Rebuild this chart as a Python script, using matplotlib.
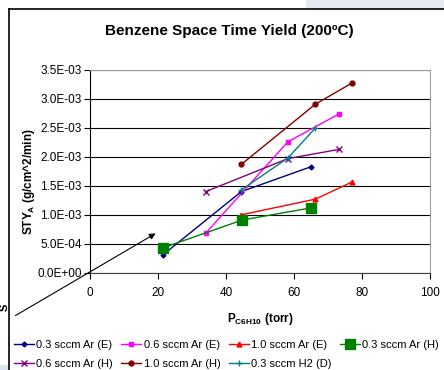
import numpy as np
import matplotlib
matplotlib.use("Agg")
import matplotlib.pyplot as plt
from matplotlib.ticker import FuncFormatter
from matplotlib.patches import Rectangle

plt.rcParams['font.family'] = ['Liberation Sans', 'DejaVu Sans']

# data (x: torr, y: g/cm^2/min)
labels = ["0.3 sccm Ar (E)", "0.6 sccm Ar (E)", "1.0 sccm Ar (E)", "0.3 sccm Ar (H)",
          "0.6 sccm Ar (H)", "1.0 sccm Ar (H)", "0.3 sccm H2 (D)"]
x_ar03_e = [21.5, 44.5, 65.0]
y_ar03_e = [3.1e-4, 1.40e-3, 1.83e-3]
x_ar06_e = [34.0, 58.2, 73.2]
y_ar06_e = [6.8e-4, 2.26e-3, 2.74e-3]
x_ar10_e = [44.5, 66.3, 77.2]
y_ar10_e = [1.0e-3, 1.27e-3, 1.57e-3]
x_ar03_h = [21.5, 44.8, 65.1]
y_ar03_h = [4.3e-4, 9.1e-4, 1.12e-3]
x_ar06_h = [34.0, 58.2, 73.3]
y_ar06_h = [1.40e-3, 1.97e-3, 2.13e-3]
x_ar10_h = [44.5, 66.3, 77.2]
y_ar10_h = [1.87e-3, 2.91e-3, 3.28e-3]
x_h203_d = [44.5, 58.2, 66.3]
y_h203_d = [1.43e-3, 1.98e-3, 2.50e-3]

xs = [x_ar03_e, x_ar06_e, x_ar10_e, x_ar03_h, x_ar06_h, x_ar10_h, x_h203_d]
ys = [y_ar03_e, y_ar06_e, y_ar10_e, y_ar03_h, y_ar06_h, y_ar10_h, y_h203_d]
colors = ['#000080', '#FF00FF', '#FF0000', '#008000', '#800080', '#800000', '#008080']
markers = ['D', 's', '^', 's', 'x', 'o', '+']
msizes = [2.5, 3.5, 3.5, 7, 4, 3.5, 5]

W, H = 444, 370
fig = plt.figure(figsize=(W / 100, H / 100), dpi=100)

# background bits around the chart object
fig.patches.append(Rectangle((306 / W, 1 - 9 / H), 1, 9 / H, transform=fig.transFigure,
                             facecolor='#E6E9F2', edgecolor='none', zorder=0))
fig.patches.append(Rectangle((0, 0), 8 / W, 5 / H, transform=fig.transFigure,
                             facecolor='#DCE3F0', edgecolor='none', zorder=0))
fig.add_artist(plt.Line2D([8.5 / W, 8.5 / W], [0, 1 - 9 / H], color='black', lw=1.2,
                          transform=fig.transFigure))
fig.add_artist(plt.Line2D([8.5 / W, 1], [1 - 9 / H, 1 - 9 / H], color='black', lw=1.2,
                          transform=fig.transFigure))
fig.text(5 / W, 1 - 307 / H, "S", rotation=90, fontsize=8, fontweight='bold',
         ha='center', va='center')

ax = fig.add_axes([90 / W, 1 - 272.7 / H, 340 / W, 202.7 / H])

for i in range(len(labels)):
    ax.plot(xs[i], ys[i], color=colors[i], marker=markers[i], ms=msizes[i],
            lw=1.0, mew=1.0, label=labels[i], clip_on=False)

ax.set_xlim(0, 100)
ax.set_ylim(0, 3.5e-3)
ax.set_xticks(np.arange(0, 101, 20))
ax.set_yticks(np.arange(0, 3.51e-3, 0.5e-3))
ax.yaxis.set_major_formatter(FuncFormatter(lambda v, p: f"{v:.1E}"))
ax.yaxis.grid(True, color='black', lw=0.8)
ax.set_axisbelow(True)
ax.tick_params(direction='out', length=4, width=0.8, labelsize=8.5, pad=2)
ax.tick_params(axis='x', labelsize=8.5, pad=6)
for s in ['top', 'right']:
    ax.spines[s].set_color('#A0A0A0')
ax.spines['left'].set_color('black')
ax.spines['bottom'].set_color('#404040')

fig.text(229 / W, 1 - 31 / H, "Benzene Space Time Yield (200ºC)", fontsize=11,
         fontweight='bold', ha='center', va='center')
ax.set_xlabel(r"P$_{\mathregular{C6H10}}$ (torr)", fontsize=8.5, fontweight='bold', labelpad=9)
ax.set_ylabel(r"STY$_{\mathregular{A}}$ (g/cm^2/min)", fontsize=8.5, fontweight='bold')
ax.yaxis.set_label_coords(37 / W, 1 - 182 / H, transform=fig.transFigure)

ax.annotate("", xy=(158 / W, 1 - 232 / H), xytext=(13 / W, 1 - 317 / H),
            xycoords='figure fraction', textcoords='figure fraction',
            arrowprops=dict(arrowstyle='-|>', color='black', lw=0.8, mutation_scale=9))

handles, labs = ax.get_legend_handles_labels()
order = [0, 4, 1, 5, 2, 6, 3]
fig.legend([handles[i] for i in order], [labs[i] for i in order], ncol=4,
           loc='upper left', bbox_to_anchor=(14 / W, 1 - 340 / H), frameon=False,
           fontsize=8, handlelength=1.8, handletextpad=0.2, columnspacing=0.75,
           labelspacing=0.8, borderpad=0, borderaxespad=0)

fig.savefig("out.png", dpi=100)
